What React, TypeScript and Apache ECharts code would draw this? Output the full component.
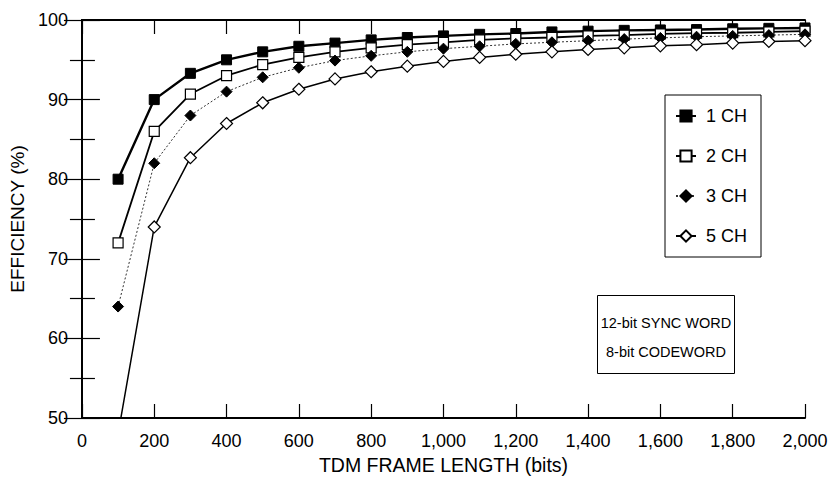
import React, { useEffect, useRef } from "react";
import * as echarts from "echarts";

const frameLengths = [100, 200, 300, 400, 500, 600, 700, 800, 900, 1000, 1100, 1200, 1300, 1400, 1500, 1600, 1700, 1800, 1900, 2000];
const ch1 = [80, 90, 93.3, 95, 96, 96.7, 97.1, 97.5, 97.8, 98, 98.2, 98.3, 98.5, 98.6, 98.7, 98.75, 98.8, 98.9, 98.95, 99];
const ch2 = [72, 86, 90.7, 93, 94.4, 95.3, 96, 96.5, 96.9, 97.2, 97.5, 97.7, 97.8, 98, 98.1, 98.25, 98.35, 98.4, 98.5, 98.6];
const ch3 = [64, 82, 88, 91, 92.8, 94, 94.9, 95.5, 96, 96.4, 96.7, 97, 97.2, 97.4, 97.6, 97.75, 97.9, 98, 98.1, 98.2];
const ch5 = [48, 74, 82.7, 87, 89.6, 91.3, 92.6, 93.5, 94.2, 94.8, 95.3, 95.7, 96, 96.3, 96.5, 96.75, 96.9, 97.1, 97.3, 97.4];
const seriesNames = ["1 CH", "2 CH", "3 CH", "5 CH"];
const noteLines = ["12-bit SYNC WORD", "8-bit CODEWORD"];

const FONT = "'Liberation Sans', Arial, Helvetica, sans-serif";

function pairs(ys: number[]) {
  return frameLengths.map((x, i) => [x, ys[i]]);
}

export default function App() {
  const ref = useRef<HTMLDivElement>(null);
  useEffect(() => {
    document.body.style.margin = "0";
    if (!ref.current) return;
    const chart = echarts.init(ref.current, undefined, { renderer: "svg" });
    const axisLine = { show: true, lineStyle: { color: "#000", width: 2 } };
    chart.setOption({
      animation: false,
      backgroundColor: "#fff",
      textStyle: { fontFamily: FONT, color: "#000" },
      grid: { left: 80, right: 33, top: 20, bottom: 70 },
      legend: {
        orient: "vertical",
        left: 665,
        top: 95,
        data: seriesNames,
        borderColor: "#000",
        borderWidth: 1,
        padding: [12, 14, 12, 10],
        itemGap: 22,
        itemWidth: 20,
        itemHeight: 14,
        textStyle: { fontSize: 18, color: "#000", fontFamily: FONT, padding: [0, 0, 0, 5] },
      },
      xAxis: [
        {
          type: "value",
          min: 0,
          max: 2000,
          interval: 200,
          name: "TDM FRAME LENGTH (bits)",
          nameLocation: "middle",
          nameGap: 33,
          nameTextStyle: { fontSize: 19.5, color: "#000", fontFamily: FONT },
          axisLine,
          axisTick: { inside: true, length: 14, lineStyle: { color: "#000", width: 1.2 } },
          axisLabel: {
            fontSize: 18,
            color: "#000",
            margin: 14,
            fontFamily: FONT,
            formatter: (v: number) => v.toLocaleString("en-US"),
          },
          splitLine: { show: false },
        },
        {
          type: "value",
          position: "top",
          min: 0,
          max: 2000,
          interval: 200,
          axisLine,
          axisTick: { inside: true, length: 14, lineStyle: { color: "#000", width: 1.2 } },
          axisLabel: { show: false },
          splitLine: { show: false },
        },
      ],
      yAxis: [
        {
          type: "value",
          min: 50,
          max: 100,
          interval: 10,
          name: "EFFICIENCY (%)",
          nameLocation: "middle",
          nameGap: 47,
          nameTextStyle: { fontSize: 19, color: "#000", fontFamily: FONT },
          axisLine,
          axisTick: { inside: true, length: 18, lineStyle: { color: "#000", width: 1.2 } },
          minorTick: { show: true, splitNumber: 2, length: 13, lineStyle: { color: "#000", width: 1.2 } },
          axisLabel: { fontSize: 18, color: "#000", margin: 14, fontFamily: FONT },
          splitLine: { show: false },
        },
        {
          type: "value",
          position: "right",
          min: 50,
          max: 100,
          interval: 10,
          axisLine,
          axisTick: { inside: true, length: 18, lineStyle: { color: "#000", width: 1.2 } },
          minorTick: { show: true, splitNumber: 2, length: 12, lineStyle: { color: "#000", width: 1.2 } },
          axisLabel: { show: false },
          splitLine: { show: false },
        },
      ],
      series: [
        {
          name: seriesNames[0],
          type: "line",
          data: pairs(ch1),
          clip: true,
          symbol: "rect",
          symbolSize: 10,
          itemStyle: { color: "#000", borderColor: "#000", borderWidth: 1 },
          lineStyle: { color: "#000", width: 2.4 },
        },
        {
          name: seriesNames[1],
          type: "line",
          data: pairs(ch2),
          clip: true,
          symbol: "rect",
          symbolSize: 10,
          itemStyle: { color: "#fff", borderColor: "#000", borderWidth: 1.2 },
          lineStyle: { color: "#000", width: 1.8 },
        },
        {
          name: seriesNames[2],
          type: "line",
          data: pairs(ch3),
          clip: true,
          symbol: "diamond",
          symbolSize: 11,
          itemStyle: { color: "#000", borderColor: "#000", borderWidth: 1 },
          lineStyle: { color: "#333", width: 1, type: [2, 2] },
        },
        {
          name: seriesNames[3],
          type: "line",
          data: pairs(ch5),
          clip: true,
          symbol: "diamond",
          symbolSize: 12,
          itemStyle: { color: "#fff", borderColor: "#000", borderWidth: 1.2 },
          lineStyle: { color: "#000", width: 1.5 },
        },
      ],
      graphic: [
        {
          type: "rect",
          left: 597,
          top: 295,
          shape: { width: 137, height: 78 },
          style: { fill: "#fff", stroke: "#000", lineWidth: 1 },
          z: 10,
        },
        {
          type: "text",
          x: 666,
          y: 323,
          style: {
            text: noteLines[0],
            fontSize: 14.5,
            fontFamily: FONT,
            fill: "#000",
            align: "center",
            verticalAlign: "middle",
          },
          z: 11,
        },
        {
          type: "text",
          x: 666,
          y: 352,
          style: {
            text: noteLines[1],
            fontSize: 14.5,
            fontFamily: FONT,
            fill: "#000",
            align: "center",
            verticalAlign: "middle",
          },
          z: 11,
        },
      ],
    });
    return () => chart.dispose();
  }, []);
  return <div ref={ref} style={{ width: 838, height: 488 }} />;
}
